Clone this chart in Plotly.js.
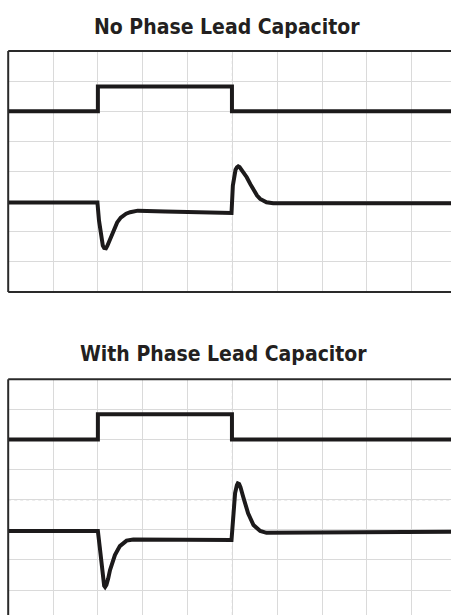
<!DOCTYPE html>
<html>
<head>
<meta charset="utf-8">
<script src="https://cdn.plot.ly/plotly-3.0.1.min.js"></script>
<style>html,body{margin:0;padding:0;background:#fff;}#chart{width:451px;height:615px;}</style>
</head>
<body>
<div id="chart"></div>
<script>
// Units: horizontal and vertical divisions of the oscilloscope grid (center = 0 vertical)
const titles = ["No Phase Lead Capacitor", "With Phase Lead Capacitor"];

// Upper trace (load step)
const stepTimeA = [0, 2.0, 2.0, 4.99, 4.99, 9.9];
const stepLevelA = [2.0, 2.0, 2.82, 2.82, 2.0, 2.0];
const stepTimeB = [0, 2.0, 2.0, 4.99, 4.99, 9.9];
const stepLevelB = [2.0, 2.0, 2.84, 2.84, 2.0, 2.0];

// Lower trace, no phase lead capacitor
const respTimeA = [0, 1.99, 2.025, 2.07, 2.11, 2.14, 2.16, 2.18, 2.21, 2.25, 2.29, 2.34, 2.43, 2.51, 2.63, 2.72, 2.89, 3.5, 4.98,
  5.01, 5.04, 5.07, 5.10, 5.13, 5.16, 5.20, 5.24, 5.32, 5.40, 5.47, 5.55, 5.62, 5.76, 5.91, 9.9];
const respLevelA = [-1.03, -1.03, -1.63, -2.16, -2.46, -2.54, -2.56, -2.55, -2.47, -2.33, -2.13, -1.96, -1.69, -1.53, -1.40, -1.35, -1.30, -1.33, -1.38,
  -0.47, -0.12, 0.06, 0.14, 0.17, 0.15, 0.07, -0.04, -0.19, -0.42, -0.63, -0.80, -0.91, -1.02, -1.05, -1.05];

// Lower trace, with phase lead capacitor
const respTimeB = [0, 2.0, 2.04, 2.07, 2.11, 2.14, 2.16, 2.19, 2.23, 2.27, 2.38, 2.49, 2.64, 2.79, 4.98,
  5.02, 5.06, 5.10, 5.12, 5.15, 5.18, 5.24, 5.30, 5.35, 5.47, 5.62, 5.76, 9.9];
const respLevelB = [-1.04, -1.04, -1.55, -2.00, -2.60, -2.86, -2.90, -2.83, -2.62, -2.34, -1.84, -1.54, -1.36, -1.32, -1.34,
  -0.34, 0.22, 0.48, 0.54, 0.52, 0.42, 0.10, -0.20, -0.45, -0.84, -1.04, -1.10, -1.06];

const W = 451, H = 615;
const traceColor = '#1c1a1b';
const lineW = 4;

function tr(x, y, xa, ya) {
  return {x: x, y: y, xaxis: xa, yaxis: ya, type: 'scatter', mode: 'lines',
    line: {color: traceColor, width: lineW}, hoverinfo: 'skip', showlegend: false};
}

const data = [
  tr(stepTimeA, stepLevelA, 'x', 'y'),
  tr(respTimeA, respLevelA, 'x', 'y'),
  tr(stepTimeB, stepLevelB, 'x2', 'y2'),
  tr(respTimeB, respLevelB, 'x2', 'y2')
];

const left = 8.2 / W;
const axisCommon = {showticklabels: false, ticks: '', zeroline: false, showline: false,
  showgrid: true, gridcolor: '#dadada', gridwidth: 1, dtick: 1, tick0: 0, fixedrange: true};

const topA = 1 - 51 / H, botA = 1 - 292 / H;
const topB = 1 - 379.3 / H;

const borderColor = '#2a2a2a';
function pl(x0, y0, x1, y1) {
  return {type: 'line', xref: 'paper', yref: 'paper', x0: x0, y0: y0, x1: x1, y1: y1,
    line: {color: borderColor, width: 2}, layer: 'above'};
}
function dotted(xa, ya, x0, y0, x1, y1) {
  return {type: 'line', xref: xa, yref: ya, x0: x0, y0: y0, x1: x1, y1: y1,
    line: {color: '#a8a8a8', width: 1, dash: 'dot'}, layer: 'below'};
}

const titleFont = {family: '"Liberation Sans Narrow", "DejaVu Sans Condensed", Arial, sans-serif', size: 21, color: '#231f20'};

const layout = {
  width: W, height: H,
  margin: {l: 0, r: 0, t: 0, b: 0, pad: 0},
  paper_bgcolor: '#ffffff', plot_bgcolor: '#ffffff',
  showlegend: false,
  xaxis: Object.assign({}, axisCommon, {domain: [left, 1], range: [0, 9.875], anchor: 'y'}),
  yaxis: Object.assign({}, axisCommon, {domain: [botA, topA], range: [-4, 4], anchor: 'x'}),
  xaxis2: Object.assign({}, axisCommon, {domain: [left, 1], range: [0, 9.875], anchor: 'y2'}),
  yaxis2: Object.assign({}, axisCommon, {domain: [0, topB], range: [-3.83, 4], anchor: 'x2'}),
  shapes: [
    dotted('x', 'y', 0, 0, 9.875, 0),
    dotted('x', 'y', 5, -4, 5, 4),
    dotted('x2', 'y2', 0, 0, 9.875, 0),
    dotted('x2', 'y2', 5, -3.83, 5, 4),
    pl(left, topA, 1, topA),
    pl(left, botA, 1, botA),
    pl(left, botA, left, topA),
    pl(left, topB, 1, topB),
    pl(left, 0, left, topB)
  ],
  annotations: [
    {text: '<b>' + titles[0] + '</b>', xref: 'paper', yref: 'paper', x: 226.5 / W, y: 1 - 27 / H,
      xanchor: 'center', yanchor: 'middle', showarrow: false, font: titleFont},
    {text: '<b>' + titles[1] + '</b>', xref: 'paper', yref: 'paper', x: 223.5 / W, y: 1 - 354 / H,
      xanchor: 'center', yanchor: 'middle', showarrow: false, font: titleFont}
  ]
};

Plotly.newPlot('chart', data, layout, {displayModeBar: false, staticPlot: true});
</script>
</body>
</html>
